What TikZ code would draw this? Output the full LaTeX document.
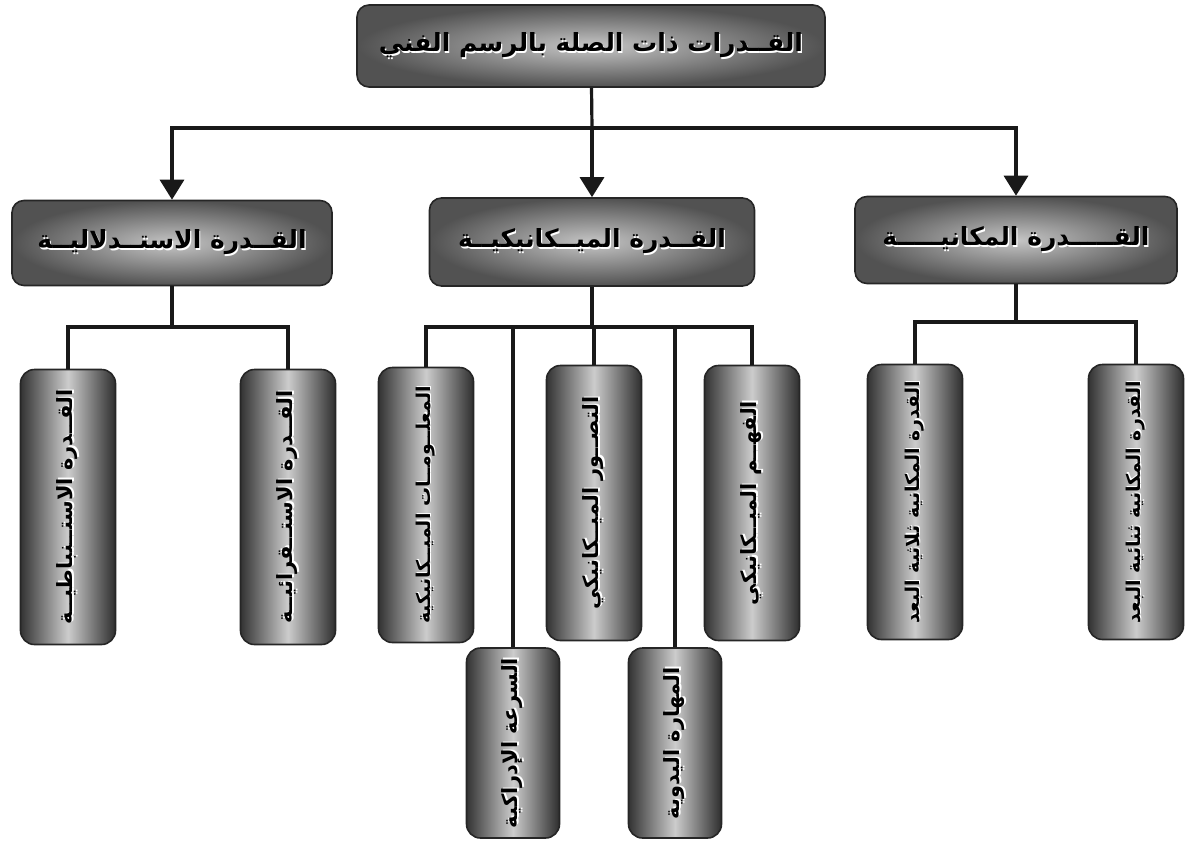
\documentclass[tikz,border=0pt]{standalone}
\usepackage{fontspec}
\usetikzlibrary{arrows.meta}
\TeXXeTstate=1
\newfontfamily\arabicfont[Script=Arabic]{DejaVu Sans}
\newcommand\artxt[1]{\beginR #1\endR}
% black label with a light emboss behind it
\newcommand\glow[1]{\leavevmode\rlap{\textcolor{white}{\kern1.2pt\raisebox{-1.2pt}{\artxt{#1}}}}\artxt{#1}}
\begin{document}
\begin{tikzpicture}[x=1pt,y=-1pt,
  conn/.style={line width=3.2pt, draw=black!90},
  tip/.style={conn,-{Triangle[length=20pt,width=24pt]}},
  hbox/.style={rounded corners=12pt, draw=black!85, line width=1.6pt,
    inner color=gray!45, outer color=black!68, inner sep=0pt},
  vbox/.style={rotate=90, rounded corners=14pt, draw=black!85, line width=1.6pt,
    left color=black!80, right color=black!82, middle color=gray!40,
    minimum width=275pt, minimum height=95pt, inner sep=0pt,
    font=\arabicfont\bfseries\fontsize{21}{24}\selectfont},
  vsmall/.style={font=\arabicfont\bfseries\fontsize{19}{22}\selectfont},
  vshort/.style={vbox, minimum width=190pt, minimum height=93pt}
]
\useasboundingbox (0,0) rectangle (1185,843);

% title
\node[hbox, minimum width=468pt, minimum height=82pt,
  font=\arabicfont\bfseries\fontsize{25}{30}\selectfont] (top) at (591,46)
  {\glow{القــدرات ذات الصلة بالرسم الفني}};

% three main abilities
\node[hbox, minimum width=320pt, minimum height=85pt,
  font=\arabicfont\bfseries\fontsize{25}{30}\selectfont] (reason) at (172,243)
  {\glow{القــدرة الاستــدلاليــة}};
\node[hbox, minimum width=325pt, minimum height=88pt,
  font=\arabicfont\bfseries\fontsize{25}{30}\selectfont] (mech) at (592,242)
  {\glow{القــدرة الميــكانيكيــة}};
\node[hbox, minimum width=322pt, minimum height=87pt,
  font=\arabicfont\bfseries\fontsize{25}{30}\selectfont] (space) at (1016,240)
  {\glow{القـــــدرة المكانيـــــة}};

% sub-abilities
\node[vbox] (deduct) at (68,507) {\glow{القــدرة الاستــنباطيــة}};
\node[vbox] (induct) at (288,507) {\glow{القــدرة الاستــقرائيــة}};

\node[vbox, vsmall] (info) at (426,505) {\glow{المعلــومــات الميــكانيكية}};
\node[vbox] (imag) at (594,503) {\glow{التصــور الميــكانيكي}};
\node[vbox] (under) at (752,503) {\glow{الفهــم الميــكانيكي}};
\node[vshort] (speed) at (513,743) {\glow{السرعة الإدراكية}};
\node[vshort] (hand) at (675,743) {\glow{المهارة اليدوية}};

\node[vbox, vsmall] (three) at (915,502) {\glow{القدرة المكانية ثلاثية البعد}};
\node[vbox, vsmall] (two) at (1136,502) {\glow{القدرة المكانية ثنائية البعد}};

% title to main abilities
\coordinate (hub) at (592,128);
\draw[conn] (top) -- (hub);
\draw[tip] (hub) -| (reason);
\draw[tip] (hub) -- (mech);
\draw[tip] (hub) -| (space);

% reasoning branch
\coordinate (hr) at (172,327);
\draw[conn] (reason) -- (hr);
\draw[conn] (hr) -| (deduct);
\draw[conn] (hr) -| (induct);

% mechanical branch
\coordinate (hm) at (592,327);
\draw[conn] (mech) -- (hm);
\draw[conn] (hm) -| (info);
\draw[conn] (hm) -| (speed);
\draw[conn] (hm) -| (imag);
\draw[conn] (hm) -| (hand);
\draw[conn] (hm) -| (under);

% spatial branch
\coordinate (hs) at (1016,322);
\draw[conn] (space) -- (hs);
\draw[conn] (hs) -| (three);
\draw[conn] (hs) -| (two);
\end{tikzpicture}
\end{document}
